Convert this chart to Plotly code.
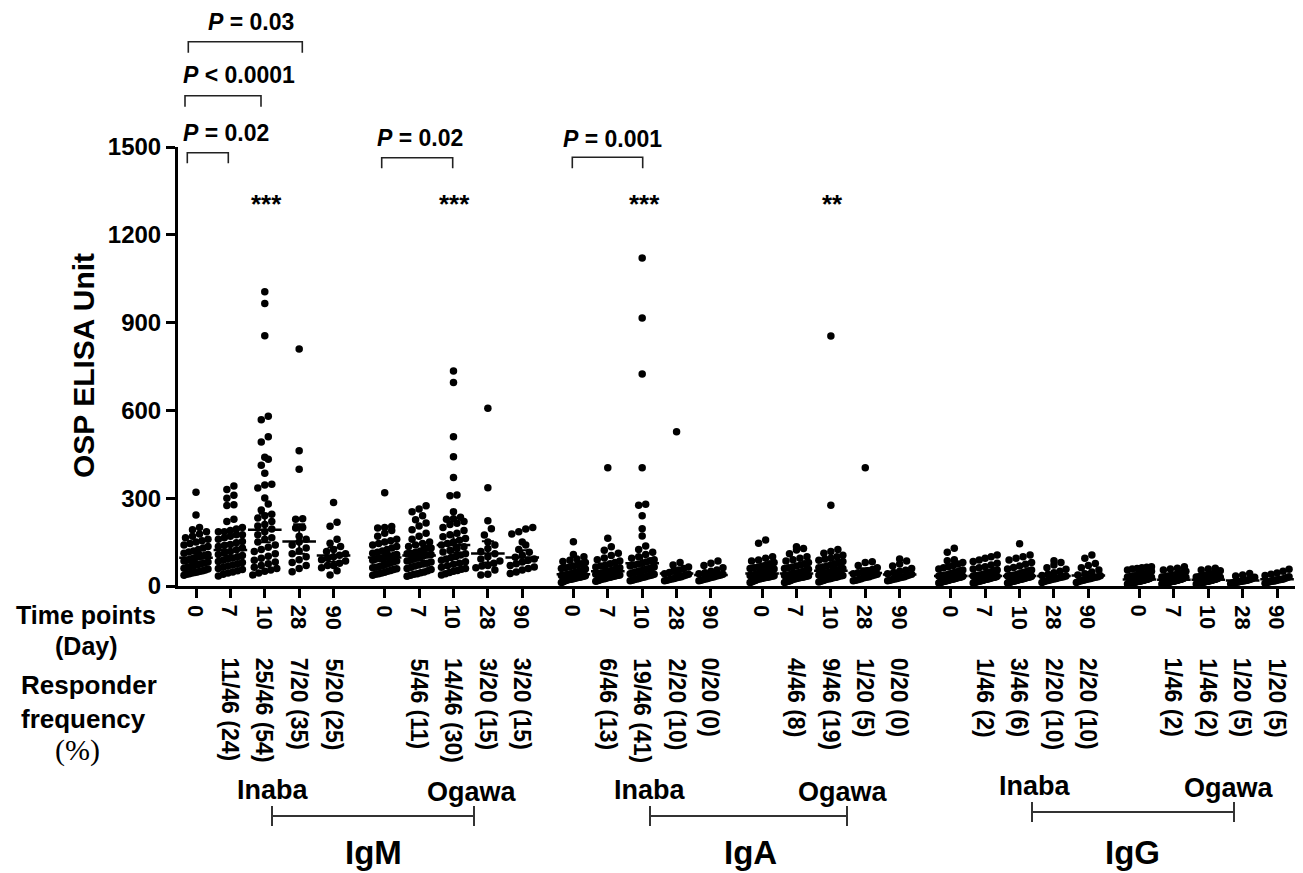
import numpy as np
import plotly.graph_objects as go

# ---------------- data (OSP ELISA units) ----------------
day_labels = ["0", "7", "10", "28", "90"]
isotype_labels = ["IgM", "IgA", "IgG"]
serotype_labels = ["Inaba", "Ogawa"]

igm_inaba_d0 = [320, 243, 200, 192, 185, 178, 170, 165, 160, 155, 150, 145, 140, 135, 130, 125, 120, 116, 112, 108, 105, 102, 100, 97, 94, 91, 88, 85, 82, 79, 76, 73, 70, 67, 64, 61, 58, 55, 52, 50, 48, 46, 44, 42, 40, 37]
igm_inaba_d7 = [342, 330, 310, 300, 278, 275, 228, 220, 200, 195, 185, 175, 190, 185, 175, 170, 165, 160, 152, 148, 142, 138, 135, 130, 124, 118, 112, 108, 104, 100, 96, 92, 88, 84, 80, 76, 72, 68, 64, 60, 56, 52, 48, 44, 40, 34]
igm_inaba_d10 = [1005, 965, 855, 580, 568, 510, 492, 440, 433, 413, 385, 348, 345, 335, 301, 280, 260, 245, 240, 232, 220, 210, 205, 195, 185, 175, 165, 160, 150, 140, 132, 125, 118, 110, 102, 95, 88, 82, 76, 70, 64, 60, 55, 50, 44, 38]
igm_inaba_d28 = [810, 462, 399, 230, 228, 200, 198, 170, 160, 150, 140, 130, 120, 110, 100, 90, 80, 70, 60, 49]
igm_inaba_d90 = [285, 218, 204, 160, 146, 135, 125, 118, 110, 105, 100, 95, 90, 85, 78, 70, 70, 62, 52, 38]

igm_ogawa_d0 = [319, 203, 200, 198, 190, 180, 170, 160, 155, 150, 145, 140, 135, 130, 125, 120, 115, 112, 108, 105, 102, 100, 98, 95, 98, 96, 94, 91, 88, 85, 82, 78, 74, 70, 67, 64, 62, 59, 56, 53, 50, 47, 44, 42, 40, 37]
igm_ogawa_d7 = [274, 263, 254, 240, 226, 215, 205, 192, 180, 170, 160, 150, 145, 140, 135, 130, 130, 126, 120, 115, 112, 110, 106, 112, 108, 104, 100, 96, 92, 88, 85, 82, 78, 75, 72, 68, 64, 60, 56, 52, 48, 45, 42, 40, 37, 33]
igm_ogawa_d10 = [735, 695, 510, 442, 371, 311, 308, 254, 230, 214, 235, 228, 220, 210, 200, 190, 180, 175, 168, 162, 156, 150, 145, 140, 134, 128, 122, 116, 110, 106, 101, 97, 92, 88, 83, 78, 74, 69, 64, 60, 57, 53, 50, 46, 42, 38]
igm_ogawa_d28 = [607, 336, 223, 196, 174, 150, 140, 128, 118, 110, 100, 92, 85, 78, 70, 68, 62, 55, 40, 38]
igm_ogawa_d90 = [200, 195, 185, 178, 150, 140, 125, 115, 105, 98, 92, 88, 82, 76, 70, 65, 60, 55, 48, 43]

iga_inaba_d0 = [151, 108, 100, 92, 88, 84, 80, 76, 72, 68, 65, 62, 60, 58, 55, 52, 50, 48, 46, 44, 42, 40, 39, 38, 37, 36, 35, 34, 33, 32, 31, 30, 29, 28, 27, 26, 25, 24, 23, 22, 21, 20, 18, 16, 14, 12]
iga_inaba_d7 = [404, 163, 134, 122, 112, 104, 96, 90, 85, 80, 76, 72, 68, 65, 62, 60, 58, 56, 54, 52, 50, 48, 47, 46, 45, 44, 43, 42, 41, 40, 38, 37, 36, 34, 33, 32, 30, 29, 28, 26, 25, 24, 22, 20, 18, 16]
iga_inaba_d10 = [1121, 916, 724, 404, 279, 276, 240, 196, 171, 137, 125, 115, 108, 100, 95, 90, 86, 82, 78, 75, 72, 68, 65, 62, 60, 58, 56, 54, 52, 50, 48, 46, 44, 42, 40, 38, 36, 34, 32, 30, 28, 26, 24, 22, 20, 18]
iga_inaba_d28 = [527, 80, 72, 65, 60, 55, 50, 46, 42, 40, 38, 35, 32, 30, 28, 26, 24, 22, 20, 18]
iga_inaba_d90 = [85, 78, 70, 62, 55, 50, 45, 42, 40, 38, 36, 34, 32, 30, 28, 26, 24, 22, 20, 18]

iga_ogawa_d0 = [157, 146, 100, 95, 89, 85, 80, 76, 72, 68, 65, 62, 60, 58, 56, 54, 52, 50, 48, 46, 45, 44, 42, 40, 39, 38, 37, 36, 35, 34, 33, 32, 31, 30, 29, 28, 27, 26, 25, 24, 22, 20, 18, 16, 14, 12]
iga_ogawa_d7 = [134, 128, 123, 110, 100, 95, 90, 85, 80, 76, 72, 68, 65, 62, 60, 57, 54, 51, 48, 46, 44, 42, 40, 39, 38, 37, 36, 35, 34, 33, 32, 31, 30, 29, 28, 27, 26, 25, 24, 22, 20, 18, 16, 15, 14, 12]
iga_ogawa_d10 = [854, 276, 125, 118, 112, 105, 100, 95, 92, 88, 84, 80, 76, 72, 68, 65, 62, 60, 58, 56, 54, 52, 50, 48, 46, 45, 44, 42, 40, 39, 38, 36, 35, 34, 32, 30, 29, 28, 26, 25, 24, 22, 20, 18, 16, 14]
iga_ogawa_d28 = [404, 83, 80, 70, 62, 56, 52, 48, 45, 42, 40, 38, 35, 32, 30, 28, 25, 22, 20, 18]
iga_ogawa_d90 = [92, 85, 75, 68, 60, 54, 50, 46, 42, 40, 38, 35, 32, 30, 28, 26, 24, 22, 20, 18]

igg_inaba_d0 = [129, 115, 90, 86, 80, 75, 70, 66, 62, 58, 55, 52, 50, 48, 46, 44, 42, 40, 38, 37, 36, 35, 34, 33, 32, 31, 30, 29, 28, 27, 26, 25, 24, 23, 22, 21, 20, 19, 18, 17, 16, 15, 14, 13, 12, 10]
igg_inaba_d7 = [106, 100, 95, 89, 84, 78, 72, 66, 62, 58, 55, 52, 50, 48, 46, 44, 42, 40, 38, 37, 36, 35, 34, 33, 32, 31, 30, 29, 28, 27, 26, 25, 24, 23, 22, 21, 20, 19, 18, 17, 16, 15, 14, 13, 12, 10]
igg_inaba_d10 = [144, 106, 100, 95, 89, 80, 74, 68, 63, 58, 55, 52, 50, 48, 46, 44, 42, 40, 38, 37, 36, 35, 34, 33, 32, 31, 30, 29, 28, 27, 26, 25, 24, 23, 22, 21, 20, 19, 18, 17, 16, 15, 14, 13, 12, 10]
igg_inaba_d28 = [86, 80, 72, 62, 57, 50, 45, 40, 36, 34, 32, 30, 28, 26, 24, 22, 20, 18, 15, 12]
igg_inaba_d90 = [106, 95, 77, 70, 62, 55, 48, 42, 38, 35, 32, 30, 28, 26, 24, 22, 20, 18, 15, 12]

igg_ogawa_d0 = [66, 64, 62, 60, 58, 55, 50, 46, 42, 40, 38, 35, 33, 31, 30, 28, 27, 26, 25, 24, 23, 22, 22, 21, 20, 20, 19, 18, 18, 17, 16, 16, 15, 15, 14, 14, 13, 12, 12, 11, 10, 10, 9, 8, 8, 7]
igg_ogawa_d7 = [66, 61, 58, 55, 50, 46, 42, 40, 38, 36, 34, 32, 31, 30, 29, 28, 27, 26, 25, 24, 23, 22, 22, 21, 20, 20, 19, 18, 18, 17, 16, 16, 15, 15, 14, 14, 13, 12, 12, 11, 10, 10, 9, 8, 8, 7]
igg_ogawa_d10 = [61, 58, 55, 52, 48, 45, 42, 40, 38, 36, 34, 32, 31, 30, 29, 28, 27, 26, 25, 24, 23, 22, 22, 21, 20, 20, 19, 18, 18, 17, 16, 16, 15, 15, 14, 14, 13, 12, 12, 11, 10, 10, 9, 8, 8, 7]
igg_ogawa_d28 = [43, 38, 34, 30, 27, 25, 23, 21, 20, 19, 18, 17, 16, 15, 14, 13, 12, 11, 10, 8]
igg_ogawa_d90 = [57, 50, 44, 40, 36, 32, 29, 27, 25, 23, 22, 21, 20, 18, 17, 16, 15, 13, 11, 9]

responders_igm_inaba = ["", "11/46 (24)", "25/46 (54)", "7/20 (35)", "5/20 (25)"]
responders_igm_ogawa = ["", "5/46 (11)", "14/46 (30)", "3/20 (15)", "3/20 (15)"]
responders_iga_inaba = ["", "6/46 (13)", "19/46 (41)", "2/20 (10)", "0/20 (0)"]
responders_iga_ogawa = ["", "4/46 (8)", "9/46 (19)", "1/20 (5)", "0/20 (0)"]
responders_igg_inaba = ["", "1/46 (2)", "3/46 (6)", "2/20 (10)", "2/20 (10)"]
responders_igg_ogawa = ["", "1/46 (2)", "1/46 (2)", "1/20 (5)", "1/20 (5)"]

p_labels = ["<i>P</i> = 0.02", "<i>P</i> < 0.0001", "<i>P</i> = 0.03", "<i>P</i> = 0.02", "<i>P</i> = 0.001"]
star_labels = ["***", "***", "***", "**"]

panels = [
    [igm_inaba_d0, igm_inaba_d7, igm_inaba_d10, igm_inaba_d28, igm_inaba_d90],
    [igm_ogawa_d0, igm_ogawa_d7, igm_ogawa_d10, igm_ogawa_d28, igm_ogawa_d90],
    [iga_inaba_d0, iga_inaba_d7, iga_inaba_d10, iga_inaba_d28, iga_inaba_d90],
    [iga_ogawa_d0, iga_ogawa_d7, iga_ogawa_d10, iga_ogawa_d28, iga_ogawa_d90],
    [igg_inaba_d0, igg_inaba_d7, igg_inaba_d10, igg_inaba_d28, igg_inaba_d90],
    [igg_ogawa_d0, igg_ogawa_d7, igg_ogawa_d10, igg_ogawa_d28, igg_ogawa_d90],
]
responders = [responders_igm_inaba, responders_igm_ogawa, responders_iga_inaba,
              responders_iga_ogawa, responders_igg_inaba, responders_igg_ogawa]

# ---------------- geometry (screen pixels; page body has an 8 px margin) ----------------
OFF = 8
W, H = 1303 - OFF, 873 - OFF
PA_L, PA_R, PA_T, PA_B = 178, 1298, 147, 586      # plot area in screen pixels
ML, MR, MT, MB = PA_L - OFF, (OFF + W) - PA_R, PA_T - OFF, (OFF + H) - PA_B
PLOT_W = PA_R - PA_L
PLOT_H = PA_B - PA_T
UNIT_PX = 34.39          # pixels per x unit
X0_PX = 196              # screen pixel of first category
GROUP_STEP = 5.487
Y_MAX = 1500
Y_PX = PLOT_H / Y_MAX


def fx(xp):
    return (xp - PA_L) / PLOT_W


def fy(yp):
    return (PA_B - yp) / PLOT_H


x_range = [(PA_L - X0_PX) / UNIT_PX, (PA_R - X0_PX) / UNIT_PX]

FONT = "Liberation Sans, Arial, sans-serif"
SERIF = "Liberation Serif, Times New Roman, serif"

T_CRIT = {45: 2.014, 19: 2.093}


def swarm_offsets(vals, dot_px=7.0, half_px=12.0):
    v = np.asarray(vals, float)
    order = np.argsort(v)
    offs = np.zeros(len(v))
    bin_h = dot_px / Y_PX
    rows, cur = [], []
    for idx in order:
        if cur and v[idx] - v[cur[0]] >= bin_h:
            rows.append(cur)
            cur = []
        cur.append(idx)
    if cur:
        rows.append(cur)
    for r in rows:
        m = len(r)
        if m == 1:
            continue
        sp = min(dot_px, 2 * half_px / (m - 1))
        for k, idx in enumerate(r):
            offs[idx] = (k - (m - 1) / 2) * sp / UNIT_PX
    return offs


dot_x, dot_y = [], []
mean_x, mean_y, ci_up, ci_dn = [], [], [], []
tick_vals, tick_text = [], []
for g, group in enumerate(panels):
    for i, vals in enumerate(group):
        xc = g * GROUP_STEP + i
        tick_vals.append(xc)
        tick_text.append(day_labels[i])
        offs = swarm_offsets(vals)
        dot_x.extend(xc + offs)
        dot_y.extend(vals)
        lv = np.log(np.asarray(vals, float))
        n = len(lv)
        m = lv.mean()
        half = T_CRIT[n - 1] * lv.std(ddof=1) / np.sqrt(n)
        gm = float(np.exp(m))
        mean_x.append(xc)
        mean_y.append(gm)
        ci_up.append(float(np.exp(m + half)) - gm)
        ci_dn.append(gm - float(np.exp(m - half)))

fig = go.Figure()
fig.add_trace(go.Scatter(
    x=dot_x, y=dot_y, mode="markers",
    marker=dict(size=7.5, color="black", line=dict(width=0)),
    cliponaxis=False, showlegend=False, hoverinfo="y"))
fig.add_trace(go.Scatter(
    x=mean_x, y=mean_y, mode="markers",
    marker=dict(symbol="line-ew", size=24, line=dict(width=2.5, color="black"), color="black"),
    error_y=dict(type="data", symmetric=False, array=ci_up, arrayminus=ci_dn,
                 width=6, thickness=2, color="black"),
    cliponaxis=False, showlegend=False, hoverinfo="y"))

fig.update_xaxes(range=x_range, tickmode="array", tickvals=tick_vals, ticktext=tick_text,
                 showticklabels=False, ticks="outside", ticklen=9, tickwidth=2.5, tickcolor="black",
                 showline=True, linewidth=3, linecolor="black", showgrid=False, zeroline=False)
fig.update_yaxes(range=[0, Y_MAX], tickmode="array", tickvals=[0, 300, 600, 900, 1200, 1500],
                 ticks="outside", ticklen=9, tickwidth=3, tickcolor="black",
                 showline=True, linewidth=3, linecolor="black", showgrid=False, zeroline=False,
                 tickfont=dict(family=FONT, size=24, color="black", weight="bold"))

ann = []


def add_text(text, xp, yp, size, family=FONT, weight="bold", xanchor="center", yanchor="middle",
             angle=0, xref="paper"):
    ann.append(dict(text=text, x=xp if xref != "paper" else fx(xp), y=fy(yp), xref=xref, yref="paper",
                    showarrow=False, xanchor=xanchor, yanchor=yanchor, textangle=angle,
                    font=dict(family=family, size=size, color="black", weight=weight)))


# category (day) labels, rotated like the reference
for xv, tt in zip(tick_vals, tick_text):
    add_text(tt, xv, 603, 22, yanchor="top", angle=90, xref="x")

# axis title
add_text("OSP ELISA Unit", 83, 366, 30, angle=-90)
# row labels
add_text("Time points", 86, 615, 25)
add_text("(Day)", 86, 646, 25)
add_text("Responder", 19, 685, 26, xanchor="left")
add_text("frequency", 19, 719, 26, xanchor="left")
add_text("(%)", 77, 750, 30, family=SERIF, weight="normal")

# responder frequencies (rotated)
for g in range(6):
    for i in range(5):
        if responders[g][i]:
            add_text(responders[g][i], g * GROUP_STEP + i, 656, 23, yanchor="top", angle=90, xref="x")

# serotype / isotype labels
sero_pos = [(273, 790, 472, 792), (650, 790, 843, 792), (1035, 786, 1229, 788)]
iso_x = [373, 750, 1132]
for k in range(3):
    ix, iy, ox, oy = sero_pos[k]
    add_text(serotype_labels[0], ix, iy, 27)
    add_text(serotype_labels[1], ox, oy, 27)
    add_text(isotype_labels[k], iso_x[k], 873, 33, yanchor="bottom")

# P-value labels and stars
p_pos = [(226, 133), (239, 75), (251, 22), (420, 138), (612, 139)]
for lab, (xp, yp) in zip(p_labels, p_pos):
    add_text(lab, xp, yp, 23)
star_pos = [(266, 204), (454, 204), (644, 204), (832, 204)]
for lab, (xp, yp) in zip(star_labels, star_pos):
    add_text(lab, xp, yp, 26)

shapes = []


def path_shape(d, width=1.6, color="#222"):
    shapes.append(dict(type="path", path=d, xref="paper", yref="paper",
                       line=dict(color=color, width=width)))


def bracket_down(x1, x2, ytop, ybot):
    return (f"M {fx(x1)},{fy(ybot)} L {fx(x1)},{fy(ytop)} L {fx(x2)},{fy(ytop)} L {fx(x2)},{fy(ybot)}")


for (x1, x2, yt, yb) in [(187.3, 228.3, 152.7, 163.3), (185, 261, 95.7, 106.7),
                         (188.3, 302.3, 41.7, 52.7), (381.7, 452.7, 157.7, 168.3),
                         (572.3, 642.7, 157.3, 168.3)]:
    path_shape(bracket_down(x1, x2, yt, yb))

for (x1, x2, ym, h) in [(272, 474, 816, 10), (650, 847, 816, 10), (1032, 1234, 812, 10)]:
    d = (f"M {fx(x1)},{fy(ym - h)} L {fx(x1)},{fy(ym + h)} "
         f"M {fx(x1)},{fy(ym)} L {fx(x2)},{fy(ym)} "
         f"M {fx(x2)},{fy(ym - h)} L {fx(x2)},{fy(ym + h)}")
    path_shape(d, width=2, color="#333")

fig.update_layout(width=W, height=H, margin=dict(l=ML, r=MR, t=MT, b=MB, autoexpand=False),
                  paper_bgcolor="white", plot_bgcolor="white", showlegend=False,
                  annotations=ann, shapes=shapes)

fig.write_html("out.html")
